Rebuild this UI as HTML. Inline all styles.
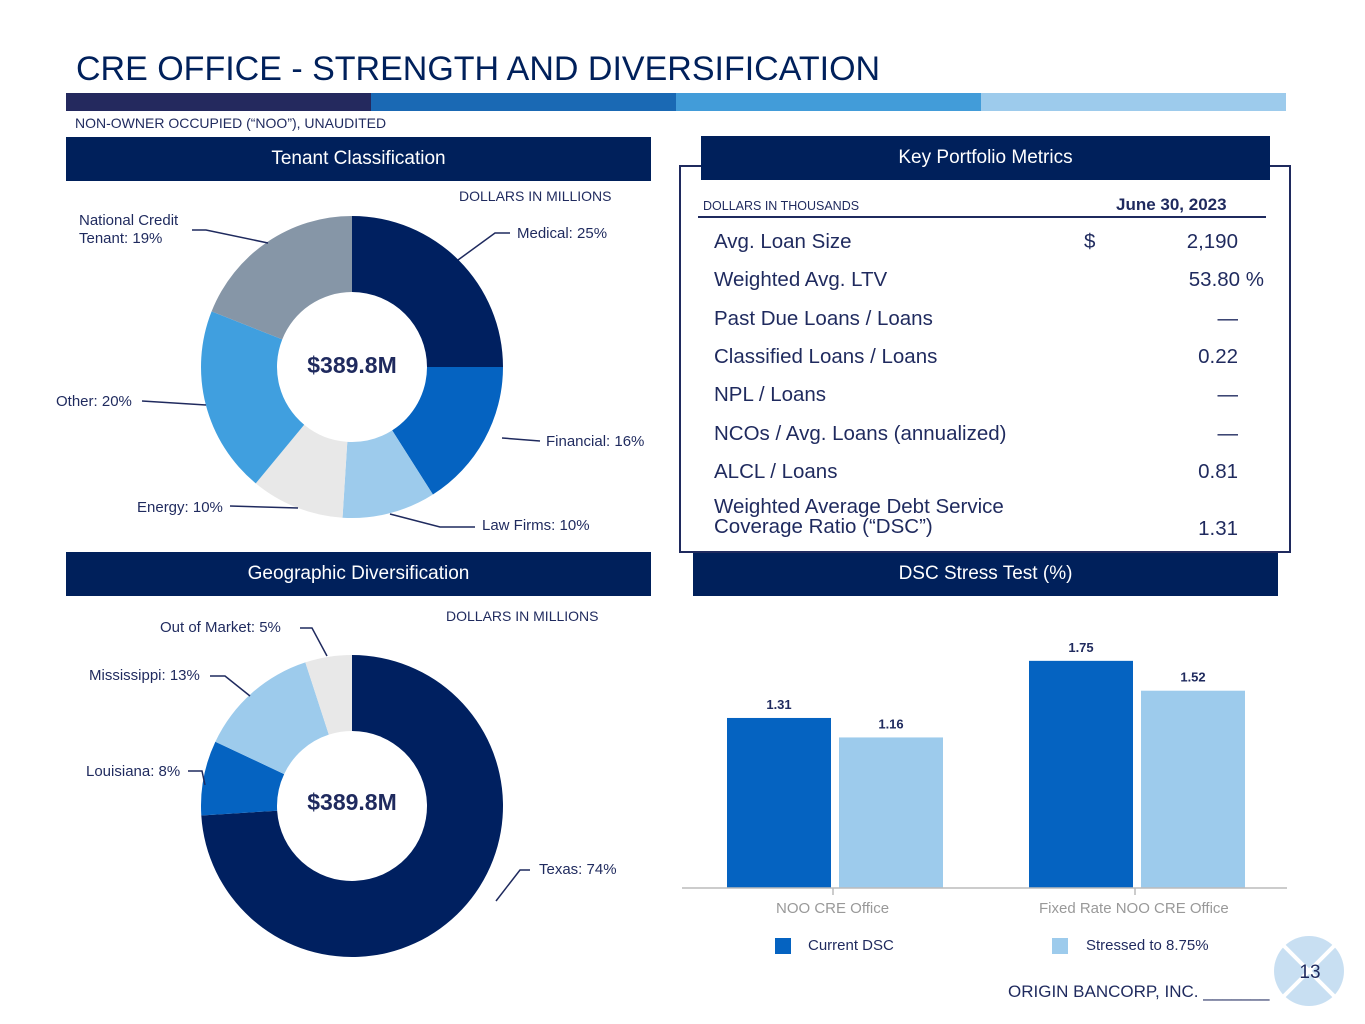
<!DOCTYPE html>
<html><head><meta charset="utf-8"><style>
body{margin:0;width:1365px;height:1024px;background:#fff;position:relative;overflow:hidden;font-family:"Liberation Sans",sans-serif;color:#1f2a5e}
.a{position:absolute}
.hdr{position:absolute;background:#00205b;color:#fff;font-size:19px;text-align:center;height:44px;line-height:44px}
.lbl{position:absolute;font-size:15px;color:#1f2a5e;white-space:nowrap}
.row{position:absolute;left:714px;font-size:20.5px;color:#1f2a5e}
.val{position:absolute;right:127px;font-size:20.5px;color:#1f2a5e;text-align:right}
</style></head><body>
<div class="a" style="left:76px;top:50px;font-size:34px;color:#00205b">CRE OFFICE - STRENGTH AND DIVERSIFICATION</div>
<div class="a" style="left:66px;top:93px;width:1220px;height:18px;display:flex">
<div style="flex:1;background:#24295e"></div><div style="flex:1;background:#1a69b4"></div><div style="flex:1;background:#429cd9"></div><div style="flex:1;background:#9dcbec"></div></div>
<div class="a" style="left:75px;top:115px;font-size:14px">NON-OWNER OCCUPIED (“NOO”), UNAUDITED</div>

<div class="hdr" style="left:66px;top:137px;width:585px">Tenant Classification</div>
<div class="hdr" style="left:701px;top:136px;width:569px;z-index:2">Key Portfolio Metrics</div>
<div class="hdr" style="left:66px;top:552px;width:585px">Geographic Diversification</div>
<div class="hdr" style="left:693px;top:552px;width:585px">DSC Stress Test (%)</div>

<div class="lbl" style="left:459px;top:188px;font-size:14px">DOLLARS IN MILLIONS</div>
<div class="lbl" style="left:446px;top:608px;font-size:14px">DOLLARS IN MILLIONS</div>

<svg class="a" style="left:0;top:0" width="1365" height="1024">
<g id="d1"></g><g id="d2"></g><g id="bars"></g>
<g stroke="#1f2a5e" stroke-width="1.5" fill="none">
<polyline points="458,260 495,233 510,233"/>
<polyline points="502,438 540,441"/>
<polyline points="390,514 440,527 475,527"/>
<polyline points="298,508 230,506"/>
<polyline points="206,405 142,401"/>
<polyline points="268,243 206,230 192,230"/>
<polyline points="496,901 520,870 530,870"/>
<polyline points="205,785 202,771 188,771"/>
<polyline points="250,696 225,676 210,676"/>
<polyline points="327,656 312,628 300,628"/>
<line x1="682" y1="888" x2="1287" y2="888" stroke="#bbb"/>
<line x1="833" y1="888" x2="833" y2="895" stroke="#bbb"/>
<line x1="1135" y1="888" x2="1135" y2="895" stroke="#bbb"/>
</g>
<text x="352" y="373" text-anchor="middle" font-size="23" font-weight="bold" fill="#1f2a5e" font-family="Liberation Sans">$389.8M</text>
<text x="352" y="810" text-anchor="middle" font-size="23" font-weight="bold" fill="#1f2a5e" font-family="Liberation Sans">$389.8M</text>
</svg>

<div class="lbl" style="left:517px;top:225px">Medical: 25%</div>
<div class="lbl" style="left:546px;top:433px">Financial: 16%</div>
<div class="lbl" style="left:482px;top:517px">Law Firms: 10%</div>
<div class="lbl" style="left:137px;top:499px">Energy: 10%</div>
<div class="lbl" style="left:56px;top:393px">Other: 20%</div>
<div class="lbl" style="left:79px;top:212px;line-height:18px">National Credit<br>Tenant: 19%</div>
<div class="lbl" style="left:539px;top:861px">Texas: 74%</div>
<div class="lbl" style="left:86px;top:763px">Louisiana: 8%</div>
<div class="lbl" style="left:89px;top:667px">Mississippi: 13%</div>
<div class="lbl" style="left:160px;top:619px">Out of Market: 5%</div>

<div class="a" style="left:679px;top:165px;width:608px;height:384px;border:2px solid #1f2a5e"></div>
<div class="lbl" style="left:703px;top:199px;font-size:12.5px">DOLLARS IN THOUSANDS</div>
<div class="lbl" style="left:1116px;top:195px;font-size:17px;font-weight:bold">June 30, 2023</div>
<div class="a" style="left:698px;top:216px;width:568px;height:2px;background:#1f2a5e"></div>
<div class="row" style="top:230px">Avg. Loan Size</div><div class="a" style="left:1084px;top:230px;font-size:20.5px">$</div><div class="val" style="top:230px">2,190</div>
<div class="row" style="top:268px">Weighted Avg. LTV</div><div class="val" style="top:268px;right:101px">53.80 %</div>
<div class="row" style="top:307px">Past Due Loans / Loans</div><div class="val" style="top:307px">—</div>
<div class="row" style="top:345px">Classified Loans / Loans</div><div class="val" style="top:345px">0.22</div>
<div class="row" style="top:383px">NPL / Loans</div><div class="val" style="top:383px">—</div>
<div class="row" style="top:422px">NCOs / Avg. Loans (annualized)</div><div class="val" style="top:422px">—</div>
<div class="row" style="top:460px">ALCL / Loans</div><div class="val" style="top:460px">0.81</div>
<div class="row" style="top:497px;line-height:20px">Weighted Average Debt Service<br>Coverage Ratio (“DSC”)</div><div class="val" style="top:517px">1.31</div>

<div class="lbl" style="left:776px;top:900px;color:#999">NOO CRE Office</div>
<div class="lbl" style="left:1039px;top:900px;color:#999">Fixed Rate NOO CRE Office</div>
<div class="a" style="left:775px;top:938px;width:16px;height:16px;background:#0563c1"></div>
<div class="lbl" style="left:808px;top:937px">Current DSC</div>
<div class="a" style="left:1052px;top:938px;width:16px;height:16px;background:#9dcbec"></div>
<div class="lbl" style="left:1086px;top:937px">Stressed to 8.75%</div>

<svg class="a" style="left:1272px;top:934px" width="74" height="74">
<circle cx="37" cy="37" r="35" fill="#c8dff2"/>
<line x1="10" y1="10" x2="64" y2="64" stroke="#fff" stroke-width="4"/><line x1="64" y1="10" x2="10" y2="64" stroke="#fff" stroke-width="4"/>
<text x="38" y="44" text-anchor="middle" font-size="19" fill="#1f2a5e" font-family="Liberation Sans">13</text></svg>
<div class="lbl" style="left:1008px;top:982px;font-size:17px">ORIGIN BANCORP, INC. _______</div>

<script>
const tenantCats=["Medical","Financial","Law Firms","Energy","Other","National Credit Tenant"];
const tenantPct=[25,16,10,10,20,19];
const tenantColors=["#002060","#0563c1","#9dcbec","#e8e8e8","#409fdf","#8696a7"];
const geoCats=["Texas","Louisiana","Mississippi","Out of Market"];
const geoPct=[74,8,13,5];
const geoColors=["#002060","#0563c1","#9dcbec","#e8e8e8"];
const barCats=["NOO CRE Office","Fixed Rate NOO CRE Office"];
const currentDSC=[1.31,1.75];
const stressedDSC=[1.16,1.52];
const NS="http://www.w3.org/2000/svg";
function donut(g,cx,cy,vals,cols,names){
  const R=151,r=75,tot=vals.reduce((a,b)=>a+b,0);let acc=0;
  vals.forEach((v,i)=>{
    const a0=acc/tot*2*Math.PI,a1=(acc+v)/tot*2*Math.PI;acc+=v;
    const p=(rr,a)=>[cx+rr*Math.sin(a),cy-rr*Math.cos(a)];
    const large=a1-a0>Math.PI?1:0;
    const [x0,y0]=p(R,a0),[x1,y1]=p(R,a1),[x2,y2]=p(r,a1),[x3,y3]=p(r,a0);
    const el=document.createElementNS(NS,"path");
    el.setAttribute("d",`M${x0},${y0}A${R},${R} 0 ${large} 1 ${x1},${y1}L${x2},${y2}A${r},${r} 0 ${large} 0 ${x3},${y3}Z`);
    el.setAttribute("fill",cols[i]);
    
    
    g.appendChild(el);
  });
}
donut(document.getElementById("d1"),352,367,tenantPct,tenantColors,tenantCats);
donut(document.getElementById("d2"),352,806,geoPct,geoColors,geoCats);
const base=888,scale=129.8,cx=[833,1135];
function yv(v){return base-v*scale;}
const bg=document.getElementById("bars");
barCats.forEach((c,i)=>{
  [[currentDSC[i],-106,"#0563c1","current"],[stressedDSC[i],6,"#9dcbec","stressed"]].forEach(([v,dx,col,nm])=>{
    const rc=document.createElementNS(NS,"rect");
    rc.setAttribute("x",cx[i]+dx);rc.setAttribute("width",104);
    rc.setAttribute("y",yv(v));rc.setAttribute("height",base-yv(v));rc.setAttribute("fill",col);
    
    
    bg.appendChild(rc);
    const t=document.createElementNS(NS,"text");
    t.setAttribute("x",cx[i]+dx+52);t.setAttribute("y",yv(v)-9);
    t.setAttribute("text-anchor","middle");t.setAttribute("font-size","13");t.setAttribute("font-weight","bold");
    t.setAttribute("fill","#1f2a5e");t.setAttribute("font-family","Liberation Sans");
    t.textContent=v.toFixed(2);
    
    
    bg.appendChild(t);
  });
});
</script>
</body></html>
